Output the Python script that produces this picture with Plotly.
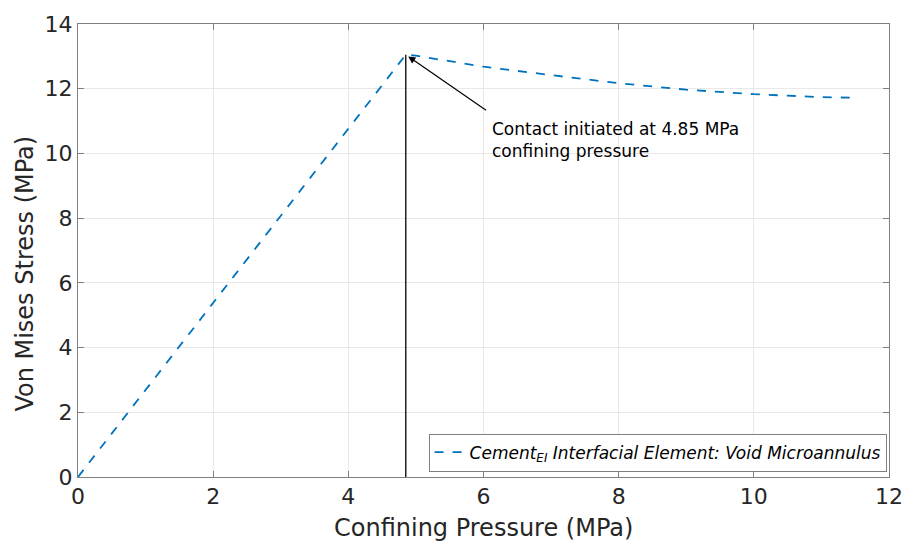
import plotly.graph_objects as go

# Confining pressure (MPa) and Von Mises stress (MPa)
pressure = [0, 4.85, 5.0, 6.0, 7.0, 8.0, 9.0, 10.0, 11.0, 11.5]
stress = [0, 13.05, 13.02, 12.68, 12.42, 12.17, 11.97, 11.83, 11.74, 11.72]

contact_p = 4.85
contact_s = 13.05

x_ticks = [0, 2, 4, 6, 8, 10, 12]
y_ticks = [0, 2, 4, 6, 8, 10, 12, 14]

font_family = "DejaVu Sans"
text_color = "#262626"

fig = go.Figure()

fig.add_trace(go.Scatter(
    x=pressure, y=stress, mode="lines",
    line=dict(color="#0072BD", width=1.8, dash="dash"),
    name="<i>Cement<sub>EI</sub> Interfacial Element: Void Microannulus</i>",
))

# Vertical marker at the contact point
fig.add_trace(go.Scatter(
    x=[contact_p, contact_p], y=[0, contact_s], mode="lines",
    line=dict(color="black", width=1.3), showlegend=False, hoverinfo="skip",
))

# Arrow pointing at the contact point
fig.add_annotation(
    x=contact_p, y=contact_s, xref="x", yref="y",
    ax=6.06, ay=11.3, axref="x", ayref="y",
    text="", showarrow=True, arrowhead=2, arrowsize=1.2, arrowwidth=1.2,
    arrowcolor="black", standoff=3,
)
fig.add_annotation(
    x=6.1, y=10.4, xref="x", yref="y", xanchor="left", yanchor="middle",
    text="Contact initiated at 4.85 MPa<br>confining pressure",
    showarrow=False, align="left",
    font=dict(family=font_family, size=17, color="black"),
)

# Axis titles
fig.add_annotation(
    x=0.5, y=0, xref="paper", yref="paper", xanchor="center", yanchor="middle",
    yshift=-51, text="Confining Pressure (MPa)", showarrow=False,
    font=dict(family=font_family, size=24, color=text_color),
)
fig.add_annotation(
    x=0, y=0.449, xref="paper", yref="paper", xanchor="center", yanchor="middle",
    xshift=-53, textangle=-90, text="Von Mises Stress (MPa)", showarrow=False,
    font=dict(family=font_family, size=24, color=text_color),
)

axis_common = dict(
    showline=True, linecolor="#808080", linewidth=1, mirror="ticks",
    ticks="inside", ticklen=6, tickcolor="#808080",
    showgrid=True, gridcolor="#E8E8E8", gridwidth=1, zeroline=False,
    tickfont=dict(family=font_family, size=22, color=text_color),
)

fig.update_xaxes(range=[0, 12], tickvals=x_ticks, **axis_common)
fig.update_yaxes(range=[0, 14], tickvals=y_ticks, **axis_common)

fig.update_layout(
    width=915, height=544,
    margin=dict(l=78, r=17, t=20, b=67),
    plot_bgcolor="white", paper_bgcolor="white",
    legend=dict(
        x=0.997, y=0.012, xanchor="right", yanchor="bottom",
        bgcolor="white", bordercolor="#808080", borderwidth=1,
        font=dict(family=font_family, size=17, color="black"),
        itemwidth=30, tracegroupgap=0,
    ),
)

fig.write_html("out.html")
